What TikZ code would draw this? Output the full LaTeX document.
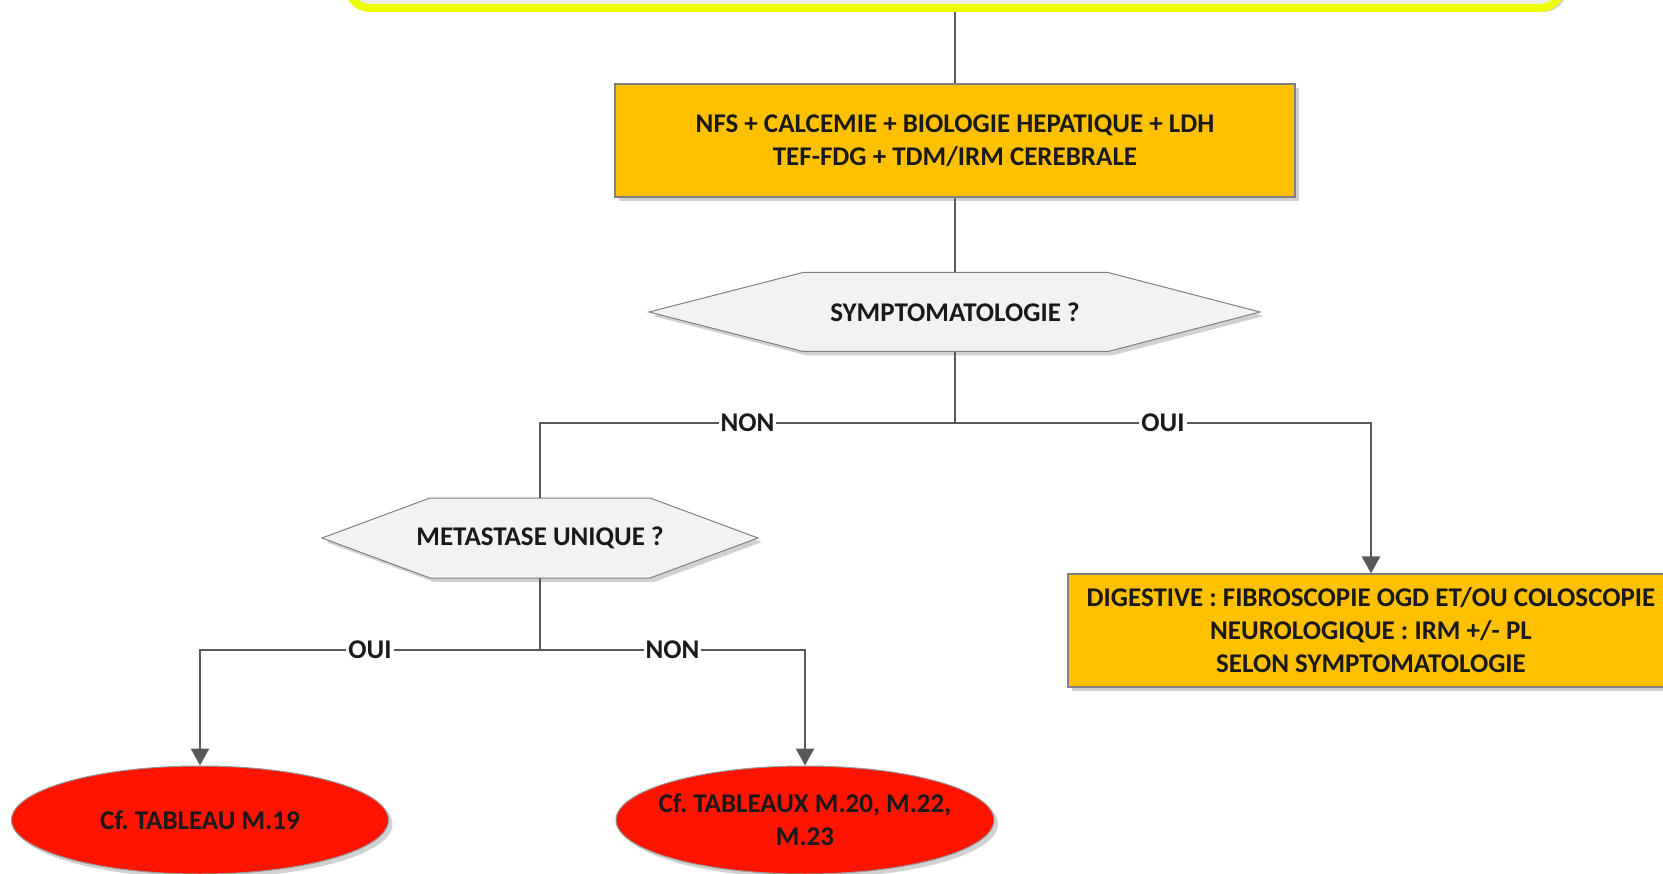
\documentclass[tikz,border=0pt]{standalone}
\usepackage{fontspec}
\setmainfont{Carlito}
\frenchspacing
\usetikzlibrary{shapes.geometric,arrows.meta,shadows}

\definecolor{boxorange}{RGB}{255,192,0}
\definecolor{endred}{RGB}{255,20,0}
\definecolor{linegray}{RGB}{89,89,89}
\definecolor{hexgray}{RGB}{242,242,242}
\definecolor{topyellow}{RGB}{240,255,0}
\definecolor{topgray}{RGB}{237,237,237}
\definecolor{txtgray}{RGB}{25,25,25}

\tikzset{
  bigtext/.style={font=\bfseries\fontsize{27}{33}\selectfont, text=txtgray, align=center},
  softshadow/.style={drop shadow={shadow xshift=4pt, shadow yshift=-4pt, fill=black, opacity=0.18}},
  exambox/.style={bigtext, rectangle, draw=gray, line width=1.2pt, fill=boxorange, softshadow},
  endcase/.style={bigtext, ellipse, draw=gray!80, line width=1pt, fill=endred, softshadow, inner sep=0pt},
  hexline/.style={draw=gray, line width=1pt, fill=hexgray, softshadow},
  hexlabel/.style={bigtext, rectangle, inner sep=0pt},
  link/.style={draw=linegray, line width=2.8pt},
  arrowlink/.style={link, -{Triangle[width=18pt,length=17pt]}},
  branch/.style={bigtext, fill=white, inner sep=2pt},
}

\begin{document}
\begin{tikzpicture}[x=1pt, y=-1pt]
        \useasboundingbox (0,0) rectangle (1663,874);
        \clip (0,0) rectangle (1663,874);

        % top box (mostly above the page)
        \node[draw=topyellow, line width=8pt, fill=topgray, rounded corners=22pt,
              minimum width=1214, minimum height=76, softshadow] (top) at (955,-30) {};

        % exams
        \node[exambox, minimum width=680, minimum height=113] (bilan) at (955,140.5)
            {NFS + CALCEMIE + BIOLOGIE HEPATIQUE + LDH\\TEF-FDG + TDM/IRM CEREBRALE};

        % first question
        \filldraw[hexline] (649,312) -- (803,272.5) -- (1108,272.5) -- (1260,312)
            -- (1108,351.5) -- (803,351.5) -- cycle;
        \node[hexlabel, minimum width=305, minimum height=79] (sympt) at (955,312) {SYMPTOMATOLOGIE ?};

        % second question
        \filldraw[hexline] (322,538) -- (430,498) -- (650,498) -- (758,538)
            -- (650,578) -- (430,578) -- cycle;
        \node[hexlabel, minimum width=220, minimum height=80] (meta) at (540,538) {METASTASE UNIQUE ?};

        % symptoms
        \node[exambox, minimum width=606, minimum height=113] (digest) at (1371,630.5)
            {DIGESTIVE : FIBROSCOPIE OGD ET/OU COLOSCOPIE\\NEUROLOGIQUE : IRM +/- PL\\SELON SYMPTOMATOLOGIE};

        % tables
        \node[endcase, minimum width=377, minimum height=108] (tabA) at (200,820) {Cf. TABLEAU M.19};
        \node[endcase, inner xsep=-14pt, minimum width=378, minimum height=108] (tabB) at (805,820)
            {Cf. TABLEAUX M.20, M.22,\\M.23};

        \coordinate (splitA) at (955,423);
        \coordinate (splitB) at (540,650);

        \draw[link] (top.south) -- (bilan.north);
        \draw[link] (bilan.south) -- (sympt.north);
        \draw[link] (sympt.south) -- (splitA);
        \draw[link] (splitA) -| (meta.north) node[branch, pos=0.25] {NON};
        \draw[arrowlink] (splitA) -| (digest.north) node[branch, pos=0.25] {OUI};
        \draw[link] (meta.south) -- (splitB);
        \draw[arrowlink] (splitB) -| (tabA.north) node[branch, pos=0.25] {OUI};
        \draw[arrowlink] (splitB) -| (tabB.north) node[branch, pos=0.25] {NON};
    \end{tikzpicture}
\end{document}
